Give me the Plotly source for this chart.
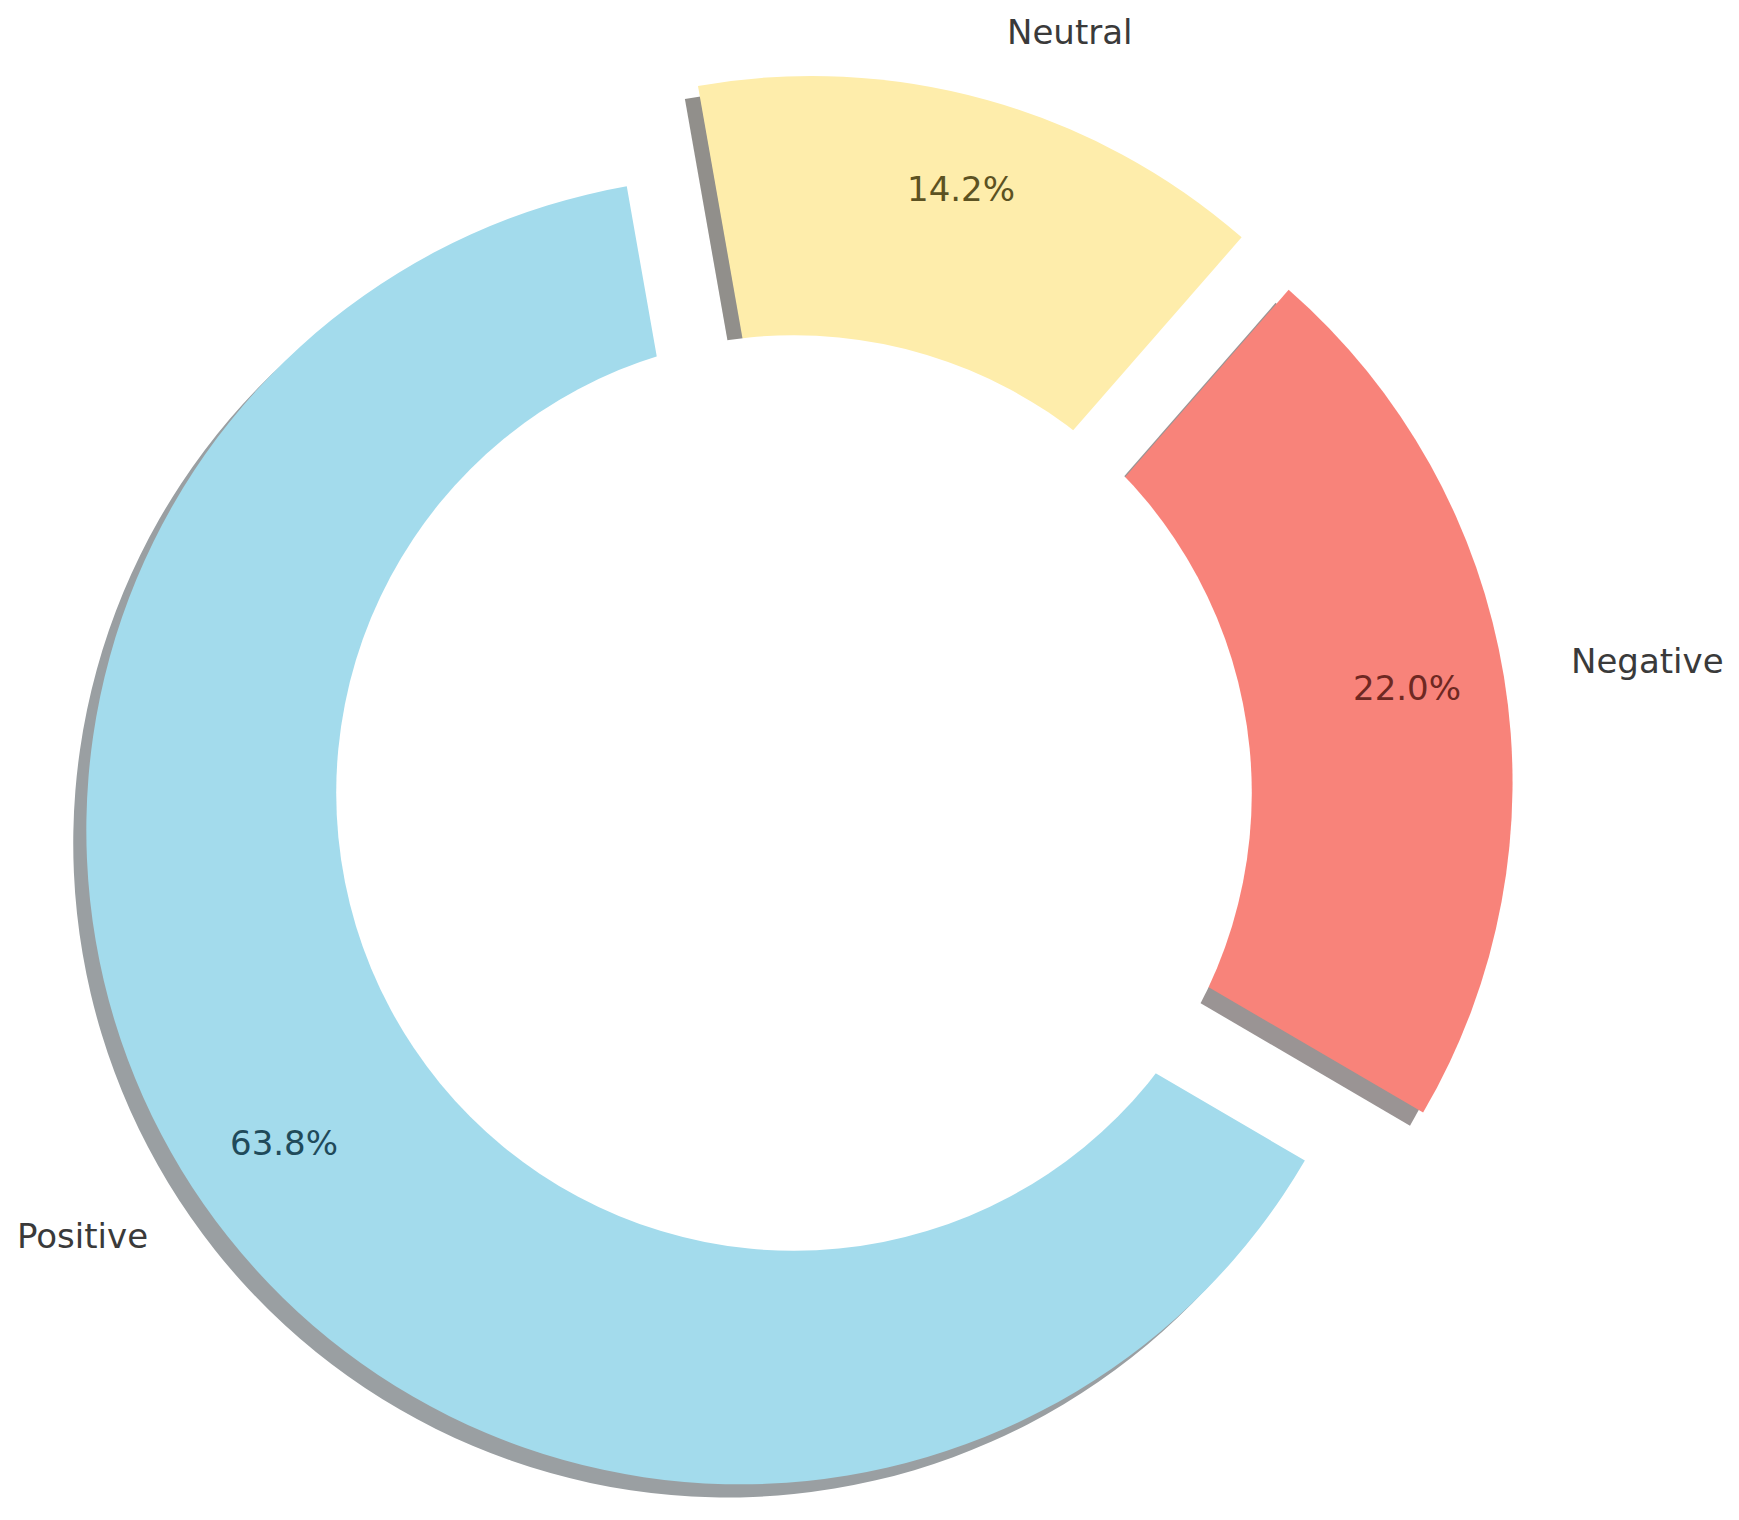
import math
import plotly.graph_objects as go

# ---- data ----
categories = ["Positive", "Negative", "Neutral"]
values = [63.8, 22.0, 14.2]
pct_labels = ["63.8%", "22.0%", "14.2%"]

# ---- styling ----
slice_colors = ["#A3DBEC", "#F8837A", "#FEEDAB"]
shadow_colors = ["#9a9fa2", "#9a9494", "#918f8b"]
pct_colors = ["#1f4a5a", "#6e2822", "#5c5222"]
label_color = "#3a3a3a"
FONT = "DejaVu Sans"

W, H = 1739, 1520
CX, CY = 786, 785          # pixel centre of the pie
R = 654                    # pixel radius of the pie
EXPLODE = 0.1
START = 100.0              # start angle (deg, counter-clockwise from 3 o'clock)
HOLE = 0.70
SHADOW = 0.02 * R

total = sum(values)
# plotly (counterclockwise) ends the first slice at the rotation point
ROTATION = -(START - 90) - 360.0 * values[0] / total


def domain(cx, cy):
    half = R * (1 + EXPLODE)
    return dict(x=[(cx - half) / W, (cx + half) / W],
                y=[1 - (cy + half) / H, 1 - (cy - half) / H])


fig = go.Figure()

# shadow pie
fig.add_trace(go.Pie(
    labels=categories, values=values, sort=False, direction="counterclockwise",
    rotation=ROTATION, pull=[EXPLODE] * len(values),
    marker=dict(colors=shadow_colors, line=dict(width=0)),
    textinfo="none", hoverinfo="skip", showlegend=False,
    domain=domain(CX - SHADOW, CY + SHADOW),
))

# main pie
fig.add_trace(go.Pie(
    labels=categories, values=values, sort=False, direction="counterclockwise",
    rotation=ROTATION, pull=[EXPLODE] * len(values),
    marker=dict(colors=slice_colors, line=dict(width=0)),
    textinfo="none", showlegend=False,
    domain=domain(CX, CY),
))

# centre circle (donut hole)
fig.add_shape(type="circle", xref="paper", yref="paper", layer="above",
              x0=(CX - HOLE * R) / W, x1=(CX + HOLE * R) / W,
              y0=1 - (CY + HOLE * R) / H, y1=1 - (CY - HOLE * R) / H,
              fillcolor="white", line=dict(width=0))

# labels and percentages, positioned from the values
ang = START
for cat, v, pl, pc in zip(categories, values, pct_labels, pct_colors):
    span = 360.0 * v / total
    mid = math.radians(ang + span / 2)
    ang += span
    c, s = math.cos(mid), math.sin(mid)
    lx, ly = CX + (1.1 + EXPLODE) * R * c, CY - (1.1 + EXPLODE) * R * s
    px, py = CX + (0.85 + EXPLODE) * R * c, CY - (0.85 + EXPLODE) * R * s
    fig.add_annotation(x=lx / W, y=1 - ly / H, xref="paper", yref="paper",
                       text=cat, showarrow=False, yshift=5,
                       xanchor="left" if c > 0 else "right", yanchor="middle",
                       font=dict(family=FONT, size=34, color=label_color))
    fig.add_annotation(x=px / W, y=1 - py / H, xref="paper", yref="paper",
                       text=pl, showarrow=False, xanchor="center", yanchor="middle",
                       yshift=5,
                       font=dict(family=FONT, size=34, color=pc))

fig.update_layout(width=W, height=H, margin=dict(l=0, r=0, t=0, b=0),
                  paper_bgcolor="white", plot_bgcolor="white", showlegend=False)

fig.write_html("out.html")
